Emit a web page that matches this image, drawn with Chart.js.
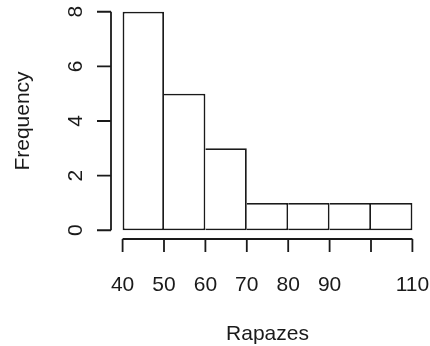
<!DOCTYPE html>
<html>
<head>
<meta charset="utf-8">
<script src="https://cdn.jsdelivr.net/npm/chart.js@4/dist/chart.umd.min.js"></script>
<style>
  html, body { margin: 0; padding: 0; background: #fff; }
  #wrap { width: 430px; height: 346px; }
</style>
</head>
<body>
<div id="wrap"><canvas id="histChart" width="430" height="346"></canvas></div>
<script>
// bins of the histogram (class limits) and counts
var binEdges = [40, 50, 60, 70, 80, 90, 100, 110];
var counts = [8, 5, 3, 1, 1, 1, 1];
// tick labels as R printed them (100 dropped because it did not fit)
var xTicks = [40, 50, 60, 70, 80, 90, 100, 110];
var xTickLabels = ['40', '50', '60', '70', '80', '90', '', '110'];
var yTicks = [0, 2, 4, 6, 8];
var xTitle = 'Rapazes';
var yTitle = 'Frequency';

var ink = '#1a1a1a';
var font = '21px "Liberation Sans", Arial, sans-serif';

var points = [];
for (let i = 0; i < counts.length; i++) {
    points.push({ x: (binEdges[i] + binEdges[i + 1]) / 2, y: counts[i] });
}

// R style axes: lines only from first to last tick, drawn at the plot edge
var rAxes = {
    id: 'rAxes',
    afterDraw: function (chart) {
        var ctx = chart.ctx;
        var area = chart.chartArea;
        var xs = chart.scales.x;
        var ys = chart.scales.y;
        ctx.save();
        ctx.strokeStyle = ink;
        ctx.lineWidth = 1.8;
        ctx.fillStyle = ink;
        ctx.font = font;

        // x axis
        var yLine = area.bottom;
        ctx.beginPath();
        ctx.moveTo(xs.getPixelForValue(xTicks[0]), yLine);
        ctx.lineTo(xs.getPixelForValue(xTicks[xTicks.length - 1]), yLine);
        for (let i = 0; i < xTicks.length; i++) {
            var px = xs.getPixelForValue(xTicks[i]);
            ctx.moveTo(px, yLine);
            ctx.lineTo(px, yLine + 13);
        }
        ctx.stroke();
        ctx.textAlign = 'center';
        ctx.textBaseline = 'alphabetic';
        for (let i = 0; i < xTicks.length; i++) {
            ctx.fillText(xTickLabels[i], xs.getPixelForValue(xTicks[i]), yLine + 52);
        }
        ctx.fillText(xTitle, (xs.getPixelForValue(binEdges[0]) + xs.getPixelForValue(binEdges[binEdges.length - 1])) / 2, 340);

        // y axis
        var xLine = area.left;
        ctx.beginPath();
        ctx.moveTo(xLine, ys.getPixelForValue(yTicks[0]));
        ctx.lineTo(xLine, ys.getPixelForValue(yTicks[yTicks.length - 1]));
        for (let i = 0; i < yTicks.length; i++) {
            var py = ys.getPixelForValue(yTicks[i]);
            ctx.moveTo(xLine, py);
            ctx.lineTo(xLine - 14, py);
        }
        ctx.stroke();
        for (let i = 0; i < yTicks.length; i++) {
            ctx.save();
            ctx.translate(xLine - 29, ys.getPixelForValue(yTicks[i]));
            ctx.rotate(-Math.PI / 2);
            ctx.fillText(String(yTicks[i]), 0, 0);
            ctx.restore();
        }
        ctx.save();
        ctx.translate(29, (ys.getPixelForValue(yTicks[0]) + ys.getPixelForValue(yTicks[yTicks.length - 1])) / 2);
        ctx.rotate(-Math.PI / 2);
        ctx.fillText(yTitle, 0, 0);
        ctx.restore();

        ctx.restore();
    }
};

var xSpan = binEdges[binEdges.length - 1] - binEdges[0];
var ySpan = yTicks[yTicks.length - 1] - yTicks[0];

var histChart = new Chart(document.getElementById('histChart').getContext('2d'), {
    type: 'bar',
    data: {
        datasets: [{
            data: points,
            backgroundColor: '#fff',
            borderColor: ink,
            borderWidth: 1.8,
            borderSkipped: function (c) { return c.dataIndex === 0 ? false : 'left'; },
            barPercentage: 1,
            categoryPercentage: 1,
            inflateAmount: 0
        }]
    },
    options: {
        responsive: false,
        animation: false,
        layout: { padding: { left: 111, right: 6, top: 3, bottom: 107 } },
        plugins: { legend: { display: false }, tooltip: { enabled: false } },
        scales: {
            x: {
                type: 'linear',
                display: false,
                offset: false,
                min: binEdges[0] - xSpan * 0.04,
                max: binEdges[binEdges.length - 1] + xSpan * 0.04
            },
            y: {
                display: false,
                min: yTicks[0] - ySpan * 0.04,
                max: yTicks[yTicks.length - 1] + ySpan * 0.04
            }
        }
    },
    plugins: [rAxes]
});
</script>
</body>
</html>
